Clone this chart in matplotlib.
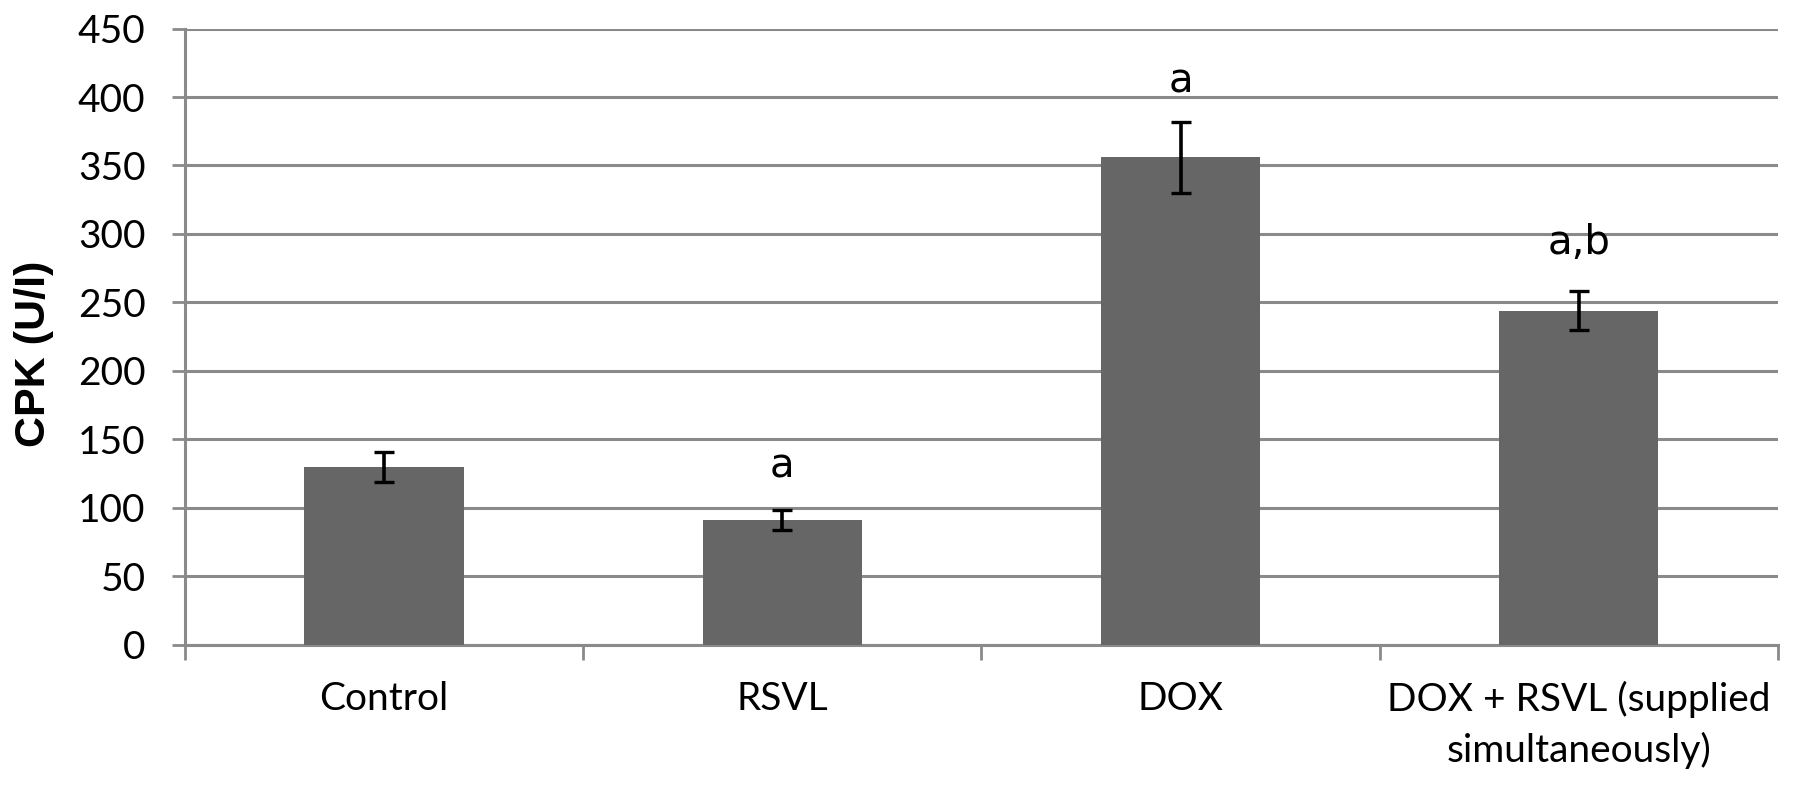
import matplotlib
matplotlib.use("Agg")
import matplotlib.pyplot as plt
import numpy as np

groups = ["Control", "RSVL", "DOX", "DOX + RSVL (supplied\nsimultaneously)"]
cpk = [130, 91, 356, 244]
cpk_err = [11, 7.5, 26, 14]
letters = ["", "a", "a", "a,b"]
letter_y = [None, 130, 411, 293]

fig = plt.figure(figsize=(17.95, 7.87), dpi=100)
ax = fig.add_axes([0.103, 0.181, 0.8875, 0.7827])

x = np.arange(len(groups))
ax.bar(x, cpk, width=0.40, color="#666666", zorder=3)
ax.errorbar(x, cpk, yerr=cpk_err, fmt="none", ecolor="black", elinewidth=2.6,
            capsize=7.2, capthick=2.4, zorder=4)

for xi, lab, ly in zip(x, letters, letter_y):
    if lab:
        ax.text(xi, ly, lab, ha="center", va="center", fontsize=29,
                family="DejaVu Sans")

ax.set_xlim(-0.5, 3.5)
ax.set_ylim(0, 450)
ax.set_yticks(np.arange(0, 451, 50))
ax.yaxis.grid(True, color="#8a8a8a", linewidth=2.2, zorder=0)
ax.set_axisbelow(True)

# category boundary ticks like Excel
ax.set_xticks(np.arange(-0.5, 4, 1))
ax.set_xticklabels([])
ax.set_xticks(x, minor=True)
ax.set_xticklabels(groups, minor=True, fontsize=28, family="Lato")
for t in ax.get_xticklabels(minor=True):
    t.set_linespacing(1.45)
ax.tick_params(axis="x", which="minor", length=0, pad=26)
ax.tick_params(axis="x", which="major", length=11, width=2, color="#8a8a8a")
ax.tick_params(axis="y", length=9.4, width=2, color="#8a8a8a", pad=19)
for t in ax.get_yticklabels():
    t.set_fontsize(28)
    t.set_family("Lato")

for s in ["top", "right"]:
    ax.spines[s].set_visible(False)
for s in ["left", "bottom"]:
    ax.spines[s].set_color("#8a8a8a")
    ax.spines[s].set_linewidth(2.2)

fig.text(34 / 1795, 1 - 354 / 787, "CPK (U/I)", rotation=90, ha="center",
         va="center", fontsize=31, fontweight="bold",
         family=["Liberation Sans Narrow", "Liberation Sans"])

fig.savefig("out.png", dpi=100, facecolor="white")
